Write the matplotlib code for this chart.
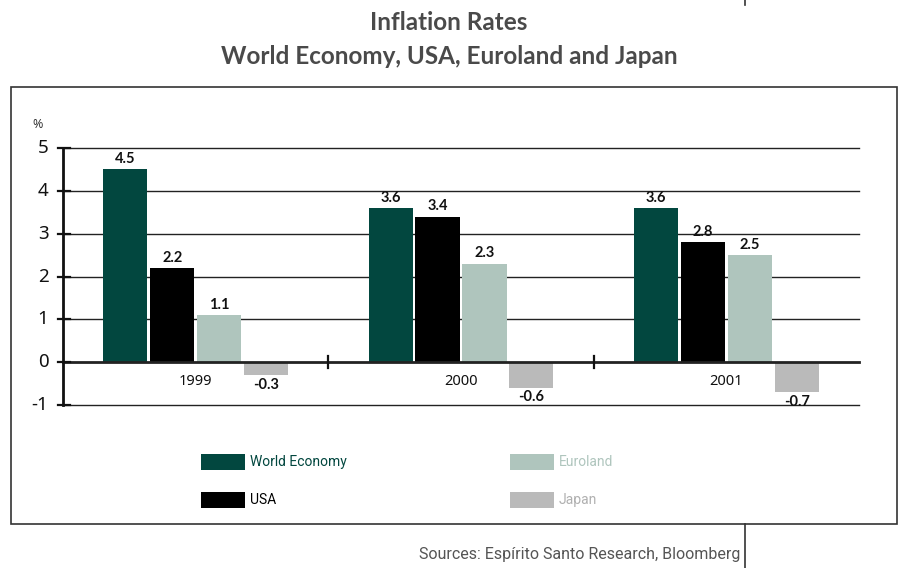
import numpy as np
import matplotlib.pyplot as plt
from matplotlib.patches import Rectangle
from matplotlib.lines import Line2D

years = ['1999', '2000', '2001']
series = ['World Economy', 'USA', 'Euroland', 'Japan']
world = [4.5, 3.6, 3.6]
usa = [2.2, 3.4, 2.8]
euroland = [1.1, 2.3, 2.5]
japan = [-0.3, -0.6, -0.7]

colors = ['#02473f', '#000000', '#afc5bd', '#bababa']
text_gray = '#4a4a4a'

plt.rcParams['font.family'] = ['Noto Sans', 'DejaVu Sans']
bold_font = ['Lato', 'DejaVu Sans']
narrow_font = ['Roboto', 'DejaVu Sans']

W, H = 898, 568
fig = plt.figure(figsize=(W / 100, H / 100), dpi=100)

def fx(px):
    return px / W

def fy(py):
    return 1 - py / H

# outer frame and the source rule
fig.add_artist(Rectangle((fx(11), fy(524)), fx(897) - fx(11), fy(87) - fy(524),
                         transform=fig.transFigure, fill=False, ec='#333333', lw=1.2))
fig.add_artist(Line2D([fx(745), fx(745)], [fy(524), fy(568)], transform=fig.transFigure,
                      color='#333333', lw=1.2))
fig.add_artist(Line2D([fx(745), fx(745)], [fy(0), fy(5)], transform=fig.transFigure,
                      color='#333333', lw=1.2))

fig.text(0.5, fy(23), 'Inflation Rates', ha='center', va='center',
         fontsize=17.5, fontweight='bold', color=text_gray, family=bold_font)
fig.text(0.5, fy(57), 'World Economy, USA, Euroland and Japan', ha='center', va='center',
         fontsize=17.5, fontweight='bold', color=text_gray, family=bold_font)

ax = fig.add_axes([fx(63), fy(405), fx(859) - fx(63), fy(148) - fy(405)])
ax.set_xlim(0, 3)
ax.set_ylim(-1, 5)
for s in ax.spines.values():
    s.set_visible(False)
ax.set_xticks([])
ax.set_yticks([])

for v in [-1, 1, 2, 3, 4, 5]:
    ax.plot([0, 3], [v, v], color='#222222', lw=1.0, zorder=1, clip_on=False)
ax.plot([0, 3], [0, 0], color='#222222', lw=2.0, zorder=3, clip_on=False)
ax.plot([0, 0], [-1, 5], color='#111111', lw=2, zorder=3, clip_on=False)
for v in range(-1, 6):
    ax.plot([-0.02, 0.025], [v, v], color='#111111', lw=1.6, clip_on=False, zorder=3)
    ax.text(-0.055, v, str(v), ha='right', va='center', fontsize=13.5, color='#111111')
ax.text(-0.075, 5.55, '%', ha='right', va='center', fontsize=9, color='#333333')

for xb in [1, 2]:
    ax.plot([xb, xb], [-0.13, 0.15], color='#111111', lw=1.6, zorder=3)

x = np.arange(len(years)) + 0.5
width = 0.166
step = 0.177
data = [world, usa, euroland, japan]
for i, (vals, c) in enumerate(zip(data, colors)):
    xs = x + (i - 1.5) * step
    ax.bar(xs, vals, width=width, color=c, zorder=2)
    for xi, v in zip(xs, vals):
        if v >= 0:
            ax.text(xi, v + 0.08, f'{v:.1f}', ha='center', va='bottom',
                    fontsize=10.5, fontweight='bold', color='#111111', family=bold_font)
        else:
            ax.text(xi, v - 0.06, f'{v:.1f}', ha='center', va='top',
                    fontsize=10.5, fontweight='bold', color='#111111', family=bold_font)

for xi, yr in zip(x, years):
    ax.text(xi, -0.45, yr, ha='center', va='center', fontsize=10.5, color='#111111')

# legend drawn as patches with coloured labels
leg_pos = [(201, 454), (201, 492), (510, 454), (510, 492)]
for (px, py), name, c in zip(leg_pos, series, colors):
    fig.add_artist(Rectangle((fx(px), fy(py + 16)), fx(44), 16 / H,
                             transform=fig.transFigure, color=c, lw=0))
    fig.text(fx(px + 49), fy(py + 8), name, ha='left', va='center', fontsize=10,
             color=c if c != '#bababa' else '#b0b0b0', family=narrow_font)

fig.text(fx(740), fy(555), 'Sources: Espírito Santo Research, Bloomberg', ha='right',
         va='center', fontsize=11.5, color='#555555', family=narrow_font)

fig.savefig('out.png', dpi=100)
